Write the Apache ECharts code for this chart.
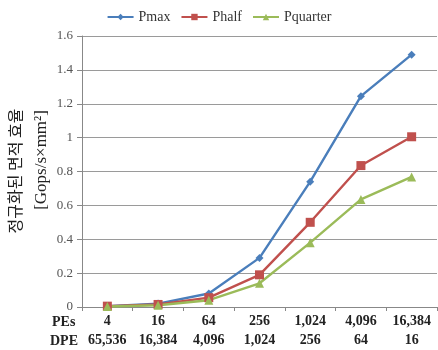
<!DOCTYPE html>
<html>
<head>
<meta charset="utf-8">
<script src="https://cdn.jsdelivr.net/npm/echarts@6/dist/echarts.min.js"></script>
<style>
  html, body { margin: 0; padding: 0; background: #fff; }
  #main { width: 438px; height: 350px; }
</style>
</head>
<body>
<div id="main"></div>
<script>
// data
var peLabels = ['4', '16', '64', '256', '1,024', '4,096', '16,384'];
var dpeLabels = ['65,536', '16,384', '4,096', '1,024', '256', '64', '16'];
var pmax = [0.005, 0.02, 0.08, 0.29, 0.74, 1.245, 1.49];
var phalf = [0.005, 0.015, 0.055, 0.19, 0.5, 0.835, 1.005];
var pquarter = [0.003, 0.01, 0.04, 0.14, 0.38, 0.635, 0.768];

var chart = echarts.init(document.getElementById('main'));

var categories = peLabels.map(function (p, i) {
  return p + '\n' + dpeLabels[i];
});

var serif = '"Liberation Serif", "DejaVu Serif", serif';
var kr = '"Noto Sans CJK KR", sans-serif';

var option = {
  animation: false,
  backgroundColor: '#fff',
  legend: {
    top: 5,
    left: 'center',
    itemWidth: 26,
    itemHeight: 8,
    itemGap: 10,
    textStyle: { fontFamily: serif, fontSize: 14, color: '#333' },
    data: ['Pmax', 'Phalf', 'Pquarter']
  },
  grid: { left: 82, right: 1, top: 36, bottom: 42 },
  xAxis: {
    type: 'category',
    data: categories,
    boundaryGap: true,
    axisLine: { lineStyle: { color: '#888' } },
    axisTick: { show: true, length: 4, lineStyle: { color: '#888' } },
    axisLabel: {
      margin: 5,
      fontFamily: serif,
      fontWeight: 'bold',
      fontSize: 14,
      lineHeight: 19,
      color: '#222'
    }
  },
  yAxis: {
    type: 'value',
    min: 0,
    max: 1.6,
    interval: 0.2,
    axisLine: { show: true, lineStyle: { color: '#888' } },
    axisTick: { show: true, length: 5, lineStyle: { color: '#888' } },
    axisLabel: { margin: 9, fontFamily: serif, fontSize: 13, color: '#555' },
    splitLine: { lineStyle: { color: '#9a9a9a' } }
  },
  graphic: [
    { type: 'text', left: 52, top: 315, style: { text: 'PEs', font: 'bold 14px ' + serif, fill: '#222' } },
    { type: 'text', left: 50, top: 334, style: { text: 'DPE', font: 'bold 14px ' + serif, fill: '#222' } },
    {
      type: 'text', x: 15, y: 171, rotation: Math.PI / 2,
      style: { text: '정규화된 면적 효율', font: '16px ' + kr, fill: '#222', align: 'center', verticalAlign: 'middle' }
    },
    {
      type: 'text', x: 42, y: 160, rotation: Math.PI / 2,
      style: { text: '[Gops/s×mm²]', font: '17px ' + serif, fill: '#222', align: 'center', verticalAlign: 'middle' }
    }
  ],
  series: [
    {
      name: 'Pmax', type: 'line', data: pmax,
      symbol: 'diamond', symbolSize: 8,
      lineStyle: { width: 2.4, color: '#4a7ebb' },
      itemStyle: { color: '#4a7ebb' }
    },
    {
      name: 'Phalf', type: 'line', data: phalf,
      symbol: 'rect', symbolSize: 9,
      lineStyle: { width: 2.4, color: '#c0504d' },
      itemStyle: { color: '#c0504d' }
    },
    {
      name: 'Pquarter', type: 'line', data: pquarter,
      symbol: 'triangle', symbolSize: 9,
      lineStyle: { width: 2.4, color: '#9bbb59' },
      itemStyle: { color: '#9bbb59' }
    }
  ]
};

chart.setOption(option);
</script>
</body>
</html>
